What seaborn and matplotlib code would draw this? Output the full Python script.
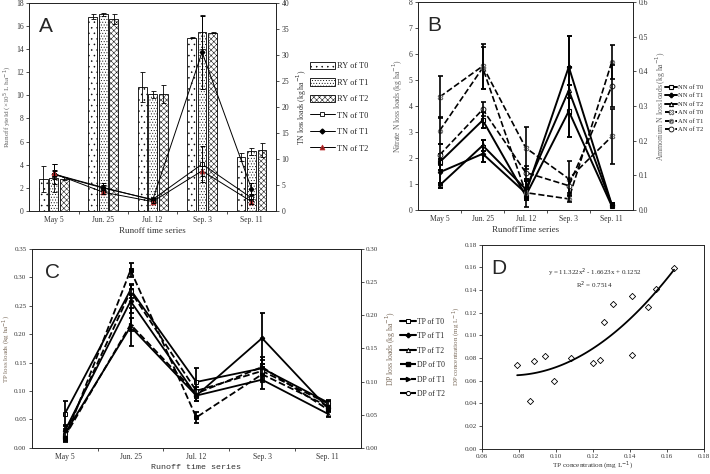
import numpy as np
import pandas as pd
import matplotlib.pyplot as plt
import seaborn as sns
from matplotlib.patches import Patch
from matplotlib.lines import Line2D

dates = ['May 5', 'Jun. 25', 'Jul. 12', 'Sep. 3', 'Sep. 11']
trts = ['T0', 'T1', 'T2']

# A: runoff yield (bars, left) + TN loss loads (lines, right)
ry_t0 = [2.75, 16.8, 10.7, 15.0, 4.7]
ry_t1 = [2.85, 17.0, 10.1, 15.5, 5.15]
ry_t2 = [2.8, 16.6, 10.1, 15.4, 5.3]
ry_err_t0 = [1.15, 0.2, 1.3, 0.05, 0.35]
ry_err_t1 = [1.2, 0.1, 0.3, 1.45, 0.3]
ry_err_t2 = [0.1, 0.4, 0.8, 0.05, 0.6]
tn_t0 = [7.0, 4.4, 2.2, 9.0, 2.5]
tn_t1 = [7.1, 4.5, 2.1, 30.5, 4.3]
tn_t2 = [7.2, 3.6, 1.8, 7.7, 1.8]
tn_err_t0 = [0.8, 0.5, 0.3, 3.4, 0.6]
tn_err_t1 = [1.9, 0.8, 0.4, 7.0, 1.0]
tn_err_t2 = [0.5, 0.4, 0.3, 1.0, 0.5]

# B: nitrate N (left) + ammonium N (right)
nn_t0 = [1.84, 3.45, 0.55, 3.8, 0.15]
nn_t1 = [1.45, 2.16, 0.65, 5.5, 0.2]
nn_t2 = [0.95, 2.48, 0.8, 4.6, 0.2]
nn_err_t0 = [0.3, 0.3, 0.15, 1.0, 0.05]
nn_err_t1 = [0.5, 0.3, 0.2, 1.2, 0.05]
nn_err_t2 = [0.1, 0.2, 0.3, 0.9, 0.05]
an_t0 = [0.326, 0.415, 0.179, 0.09, 0.212]
an_t1 = [0.229, 0.41, 0.05, 0.032, 0.427]
an_t2 = [0.159, 0.29, 0.108, 0.07, 0.357]
an_err_t0 = [0.06, 0.065, 0.06, 0.05, 0.08]
an_err_t1 = [0.04, 0.06, 0.04, 0.01, 0.05]
an_err_t2 = [0.03, 0.02, 0.02, 0.02, 0.06]

# C: TP (left) + DP (right)
tp_t0 = [0.06, 0.278, 0.116, 0.14, 0.08]
tp_t1 = [0.03, 0.258, 0.092, 0.193, 0.07]
tp_t2 = [0.025, 0.213, 0.092, 0.12, 0.06]
tp_err_t0 = [0.022, 0.01, 0.025, 0.02, 0.005]
tp_err_t1 = [0.01, 0.02, 0.01, 0.045, 0.005]
tp_err_t2 = [0.008, 0.033, 0.01, 0.017, 0.005]
dp_t0 = [0.013, 0.268, 0.046, 0.111, 0.063]
dp_t1 = [0.017, 0.186, 0.082, 0.122, 0.058]
dp_t2 = [0.021, 0.236, 0.086, 0.116, 0.067]
dp_err_t0 = [0.004, 0.01, 0.008, 0.01, 0.004]
dp_err_t1 = [0.004, 0.01, 0.006, 0.01, 0.004]
dp_err_t2 = [0.004, 0.01, 0.006, 0.01, 0.004]

# D: TP vs DP concentration
tp_conc = [0.079, 0.086, 0.088, 0.094, 0.099, 0.108, 0.120, 0.124, 0.126, 0.131, 0.141, 0.141, 0.150, 0.154, 0.164]
dp_conc = [0.074, 0.042, 0.077, 0.082, 0.060, 0.080, 0.076, 0.078, 0.112, 0.128, 0.135, 0.083, 0.125, 0.141, 0.159]

sns.set_style('ticks')
plt.rcParams['font.family'] = ['Liberation Serif', 'DejaVu Serif']
plt.rcParams['hatch.linewidth'] = 0.35
plt.rcParams['axes.linewidth'] = 0.7
plt.rcParams['xtick.major.width'] = 0.6
plt.rcParams['ytick.major.width'] = 0.6
plt.rcParams['xtick.major.size'] = 2.5
plt.rcParams['ytick.major.size'] = 2.5
plt.rcParams['xtick.major.pad'] = 1.5
plt.rcParams['ytick.major.pad'] = 1.5
plt.rcParams['xtick.labelsize'] = 5.5
plt.rcParams['ytick.labelsize'] = 5.5
plt.rcParams['xtick.color'] = '#333333'
plt.rcParams['ytick.color'] = '#333333'

x = np.arange(5)
fig = plt.figure(figsize=(7.1, 4.74), dpi=100)


def cat_axis(ax, xlabel, family=None, size=6.5):
    ax.set_xlim(-0.5, 4.5)
    ax.set_xticks([0.5, 1.5, 2.5, 3.5])
    ax.set_xticklabels([])
    ax.set_xticks(x, minor=True)
    ax.set_xticklabels(dates, minor=True)
    ax.tick_params(axis='x', which='minor', length=0, pad=3.5)
    ax.set_xlabel(xlabel, fontsize=size, color='#333333', labelpad=2,
                  family=family)


def letter(ax, s):
    ax.text(0.04, 0.93, s, transform=ax.transAxes, fontsize=15,
            family='Liberation Sans', va='top')


def lines(ax, ys, errs, styles, lw):
    for y, e, st in zip(ys, errs, styles):
        sns.lineplot(x=x, y=y, ax=ax, color='black', lw=lw, **st)
        ax.errorbar(x, y, yerr=e, fmt='none', ecolor='black', elinewidth=lw,
                    capsize=1.8, capthick=lw)


# ---------------- A ----------------
axA = fig.add_axes([0.041, 0.555, 0.348, 0.439])
df_ry = pd.DataFrame({'date': dates * 3, 'trt': np.repeat(trts, 5),
                      'ry': ry_t0 + ry_t1 + ry_t2})
sns.barplot(data=df_ry, x='date', y='ry', hue='trt', palette=['white'] * 3,
            edgecolor='black', linewidth=0.6, width=0.64, gap=0.16,
            errorbar=None, legend=False, ax=axA)
hatches = ['...', '......', 'xxxxxx']
for cont, h, err in zip(axA.containers, hatches, [ry_err_t0, ry_err_t1, ry_err_t2]):
    cx, cy = [], []
    for bar in cont:
        bar.set_hatch(h)
        cx.append(bar.get_x() + bar.get_width() / 2)
        cy.append(bar.get_height())
    axA.errorbar(cx, cy, yerr=err, fmt='none', ecolor='black', elinewidth=0.6,
                 capsize=1.8, capthick=0.6)
axA.set_ylim(0, 18)
axA.set_yticks(range(0, 19, 2))
axA.set_ylabel('Runoff yield (×10$^5$ L ha$^{-1}$)', fontsize=5.2, color='#666666', labelpad=1.5)
cat_axis(axA, 'Runoff time series')
letter(axA, 'A')
axA2 = axA.twinx()
tn_styles = [dict(marker='s', ms=3.5, mfc='white', mec='black', mew=0.6),
             dict(marker='D', ms=2.5, mfc='black', mec='black'),
             dict(marker='^', ms=3.5, mfc='#8b1a1a', mec='#c03030', mew=0.6)]
lines(axA2, [tn_t0, tn_t1, tn_t2], [tn_err_t0, tn_err_t1, tn_err_t2], tn_styles, 0.7)
axA2.set_ylim(0, 40)
axA2.set_yticks(range(0, 41, 5))
axA2.set_ylabel('TN loss loads (kg ha$^{-1}$)', fontsize=5.5, color='#333333', labelpad=4)
hA = [Patch(facecolor='white', edgecolor='black', hatch=h, lw=0.6) for h in hatches]
hA += [Line2D([], [], color='black', lw=0.7, **s) for s in tn_styles]
labA = ['RY of ' + t for t in trts] + ['TN of ' + t for t in trts]
fig.legend(hA, labA, loc='upper left', bbox_to_anchor=(0.436, 0.87), frameon=False,
           fontsize=6, handlelength=3.0, handleheight=1.0, labelspacing=0.95,
           handletextpad=0.3, borderpad=0, borderaxespad=0)

# ---------------- B ----------------
axB = fig.add_axes([0.589, 0.557, 0.303, 0.439])
nn_styles = [dict(marker='s', ms=2.5, mfc='white', mec='black', mew=0.8),
             dict(marker='P', ms=3, mfc='black', mec='black'),
             dict(marker='^', ms=3, mfc='white', mec='black', mew=0.8)]
lines(axB, [nn_t0, nn_t1, nn_t2], [nn_err_t0, nn_err_t1, nn_err_t2], nn_styles, 1.4)
axB.set_ylim(0, 8)
axB.set_yticks(range(0, 9))
axB.set_ylabel('Nitrate N loss loads (kg ha$^{-1}$)', fontsize=5.5, color='#666666', labelpad=3)
cat_axis(axB, 'RunoffTime series')
letter(axB, 'B')
axB2 = axB.twinx()
an_styles = [dict(marker='X', ms=3.5, mfc='white', mec='#555555', mew=0.6, ls='--'),
             dict(marker='$\\otimes$', ms=3.5, mfc='white', mec='#555555', mew=0.3, ls='--'),
             dict(marker='o', ms=3.5, mfc='white', mec='black', mew=0.6, ls='--')]
lines(axB2, [an_t0, an_t1, an_t2], [an_err_t0, an_err_t1, an_err_t2], an_styles, 1.2)
axB2.set_ylim(0, 0.6)
axB2.set_yticks(np.arange(0, 0.61, 0.1))
axB2.set_yticklabels([f'{v:.1f}' for v in np.arange(0, 0.61, 0.1)])
axB2.set_ylabel('Ammonium N loss loads (kg ha$^{-1}$)', fontsize=5.5, color='#666666', labelpad=4)
hB = [Line2D([], [], color='black', lw=1.4, **s) for s in nn_styles]
hB += [Line2D([], [], color='black', lw=1.4, **s) for s in an_styles]
labB = ['NN of ' + t for t in trts] + ['AN of ' + t for t in trts]
fig.legend(hB, labB, loc='upper left', bbox_to_anchor=(0.936, 0.822), frameon=False,
           fontsize=4.7, handlelength=1.9, labelspacing=0.45, handletextpad=0.15,
           borderpad=0, borderaxespad=0)

# ---------------- C ----------------
axC = fig.add_axes([0.045, 0.055, 0.463, 0.42])
tp_styles = [dict(marker='s', ms=3, mfc='white', mec='black', mew=0.7),
             dict(marker='P', ms=3, mfc='black', mec='black'),
             dict(marker='^', ms=3, mfc='white', mec='black', mew=0.7)]
lines(axC, [tp_t0, tp_t1, tp_t2], [tp_err_t0, tp_err_t1, tp_err_t2], tp_styles, 1.3)
axC.set_ylim(0, 0.35)
axC.set_yticks(np.arange(0, 0.351, 0.05))
axC.set_yticklabels([f'{v:.2f}' for v in np.arange(0, 0.351, 0.05)])
axC.tick_params(axis='y', labelsize=5)
axC.set_ylabel('TP loss loads (kg ha$^{-1}$)', fontsize=5, color='#7a6a5a', labelpad=0.5)
cat_axis(axC, 'Runoff time series', family='Liberation Mono', size=6)
letter(axC, 'C')
axC2 = axC.twinx()
dp_styles = [dict(marker='s', ms=3, mfc='black', mec='black', ls='--'),
             dict(marker='>', ms=3, mfc='black', mec='black', ls='--'),
             dict(marker='o', ms=3, mfc='white', mec='black', mew=0.7, ls='--')]
lines(axC2, [dp_t0, dp_t1, dp_t2], [dp_err_t0, dp_err_t1, dp_err_t2], dp_styles, 1.3)
axC2.set_ylim(0, 0.30)
axC2.set_yticks(np.arange(0, 0.301, 0.05))
axC2.set_yticklabels([f'{v:.2f}' for v in np.arange(0, 0.301, 0.05)])
axC2.tick_params(axis='y', labelsize=5)
axC2.set_ylabel('DP loss loads (kg ha$^{-1}$)', fontsize=5.5, color='#7a6a5a', labelpad=4)
hC = [Line2D([], [], color='black', lw=1.5, **s) for s in tp_styles]
hC += [Line2D([], [], color='black', lw=1.5, **s) for s in dp_styles]
labC = ['TP of ' + t for t in trts] + ['DP of ' + t for t in trts]
fig.legend(hC, labC, loc='upper left', bbox_to_anchor=(0.564, 0.33), frameon=False,
           fontsize=5.5, handlelength=2.0, labelspacing=0.85, handletextpad=0.2,
           borderpad=0, borderaxespad=0)

# ---------------- D ----------------
axD = fig.add_axes([0.679, 0.053, 0.312, 0.431])
sns.regplot(x=tp_conc, y=dp_conc, order=2, ci=None, scatter=False, ax=axD,
            line_kws=dict(color='black', lw=1.3))
sns.scatterplot(x=tp_conc, y=dp_conc, marker='D', s=10, facecolor='white',
                edgecolor='black', linewidth=0.6, ax=axD)
axD.set_xlim(0.06, 0.18)
axD.set_ylim(0, 0.18)
axD.set_xticks(np.arange(0.06, 0.181, 0.02))
axD.set_xticklabels([f'{v:.2f}' for v in np.arange(0.06, 0.181, 0.02)])
axD.set_yticks(np.arange(0, 0.181, 0.02))
axD.set_yticklabels([f'{v:.2f}' for v in np.arange(0, 0.181, 0.02)])
axD.tick_params(labelsize=5, pad=1)
axD.set_xlabel('TP concentration (mg L$^{-1}$)', fontsize=5.2, color='#333333', labelpad=1)
axD.set_ylabel('DP concentration (mg L$^{-1}$)', fontsize=5, color='#7a6a5a', labelpad=1)
axD.text(0.121, 0.150, 'y = 11.322x$^2$ - 1.6623x + 0.1252\nR$^2$ = 0.7514',
         fontsize=5, ha='center', va='center', linespacing=1.1)
letter(axD, 'D')
for a in [axA, axA2, axB, axB2, axC, axC2, axD]:
    for sp in a.spines.values():
        sp.set_visible(True)
        sp.set_linewidth(0.7)

fig.savefig('out.png', dpi=100)
